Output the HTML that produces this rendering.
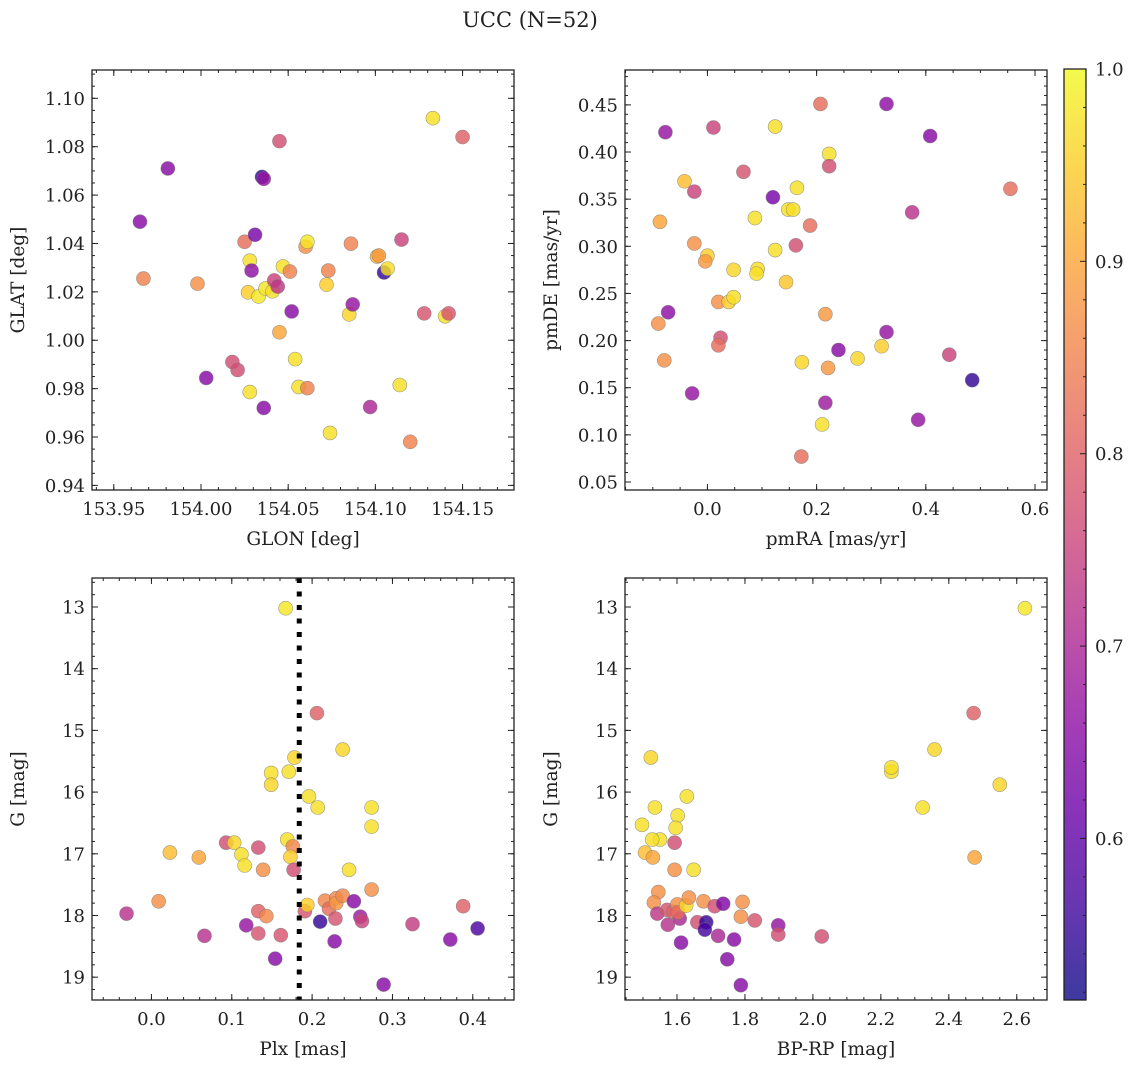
<!DOCTYPE html>
<html><head><meta charset="utf-8">
<style>
html,body{margin:0;padding:0;background:#fff;}
svg text{font-family:"DejaVu Serif","Liberation Serif",serif;fill:#222;}
</style></head>
<body>
<svg id="fig" width="1136" height="1068" viewBox="0 0 1136 1068" xmlns="http://www.w3.org/2000/svg">
<text x="530" y="27" text-anchor="middle" font-size="21">UCC (N=52)</text>
</svg>
<script>
// ---------- data ----------
const glonVals=[153.965,153.981,153.967,153.998,154.003,154.018,154.021,154.025,154.028,154.027,154.028,154.029,154.031,154.033,154.035,154.036,154.036,154.037,154.041,154.042,154.044,154.045,154.045,154.047,154.051,154.052,154.054,154.056,154.060,154.061,154.061,154.072,154.073,154.074,154.085,154.086,154.087,154.097,154.101,154.102,154.105,154.107,154.114,154.115,154.120,154.128,154.133,154.140,154.142,154.150];
const glatVals=[1.049,1.071,1.0255,1.0234,0.9844,0.991,0.9877,1.0407,1.0329,1.0198,0.9786,1.0288,1.0436,1.0181,1.0675,1.0667,0.972,1.0214,1.0202,1.0247,1.0222,1.0823,1.0033,1.0305,1.0284,1.0119,0.9922,0.9807,1.0387,0.9802,1.0407,1.023,1.0288,0.9617,1.0107,1.0399,1.0148,0.9724,1.0346,1.035,1.028,1.0296,0.9815,1.0416,0.958,1.0111,1.0918,1.0099,1.0111,1.084];
const glatProb=[0.65,0.65,0.85,0.87,0.65,0.77,0.77,0.82,0.97,0.95,0.97,0.66,0.63,0.98,0.55,0.67,0.65,0.98,0.97,0.75,0.73,0.77,0.9,0.97,0.85,0.65,0.97,0.97,0.87,0.85,0.98,0.95,0.85,0.97,0.96,0.85,0.67,0.7,0.93,0.88,0.55,0.97,0.97,0.75,0.85,0.78,0.97,0.97,0.78,0.8];

const pmraVals=[-0.077,0.011,0.207,0.328,0.124,0.408,-0.042,-0.024,0.066,0.223,0.223,-0.087,0.120,0.164,0.087,0.148,0.157,0.188,0.375,0.555,-0.024,0.124,0.162,0.0,-0.004,0.048,0.092,0.090,0.144,0.020,0.039,0.048,-0.072,0.216,-0.090,0.024,0.020,0.328,0.319,0.240,0.443,-0.079,0.173,0.275,0.221,0.485,-0.028,0.216,0.386,0.210,0.172];
const pmdeVals=[0.421,0.426,0.451,0.451,0.427,0.417,0.369,0.358,0.379,0.398,0.385,0.326,0.352,0.362,0.330,0.339,0.339,0.322,0.336,0.361,0.303,0.296,0.301,0.290,0.284,0.275,0.276,0.271,0.262,0.241,0.241,0.246,0.230,0.228,0.218,0.203,0.195,0.209,0.194,0.190,0.185,0.179,0.177,0.181,0.171,0.158,0.144,0.134,0.116,0.111,0.077];
const pmProb=[0.67,0.75,0.82,0.66,0.97,0.65,0.93,0.75,0.78,0.97,0.77,0.9,0.63,0.97,0.97,0.97,0.97,0.82,0.72,0.82,0.87,0.97,0.77,0.95,0.88,0.96,0.97,0.97,0.94,0.87,0.95,0.97,0.66,0.88,0.87,0.77,0.82,0.67,0.95,0.65,0.75,0.87,0.96,0.96,0.88,0.55,0.67,0.68,0.67,0.97,0.82];

const plxVals=[-0.031,0.009,0.066,0.118,0.133,0.143,0.133,0.161,0.154,0.191,0.194,0.210,0.216,0.221,0.229,0.228,0.230,0.230,0.238,0.252,0.260,0.262,0.274,0.289,0.325,0.372,0.388,0.406,0.167,0.206,0.178,0.238,0.149,0.149,0.171,0.196,0.207,0.274,0.274,0.093,0.103,0.112,0.116,0.133,0.169,0.176,0.173,0.023,0.059,0.139,0.177,0.246];
const gPlxVals=[17.97,17.77,18.33,18.16,17.93,18.01,18.29,18.32,18.70,17.93,17.83,18.10,17.76,17.89,18.05,18.42,17.72,17.80,17.68,17.77,18.02,18.09,17.58,19.12,18.14,18.39,17.85,18.21,13.02,14.72,15.44,15.31,15.69,15.88,15.67,16.07,16.25,16.25,16.56,16.82,16.82,17.01,17.19,16.90,16.77,16.88,17.05,16.98,17.06,17.26,17.26,17.26];
const plxProb=[0.72,0.87,0.72,0.67,0.8,0.86,0.78,0.78,0.65,0.78,0.95,0.55,0.86,0.82,0.78,0.65,0.86,0.88,0.86,0.65,0.68,0.75,0.87,0.65,0.74,0.65,0.8,0.58,0.98,0.8,0.96,0.96,0.97,0.96,0.97,0.97,0.97,0.97,0.97,0.77,0.96,0.97,0.97,0.77,0.97,0.86,0.95,0.93,0.9,0.87,0.77,0.97];
const plxMedian=[0.184];

const bprpVals=[1.545,1.532,1.542,1.571,1.573,1.588,1.601,1.608,1.603,1.627,1.635,1.612,1.660,1.678,1.686,1.682,1.711,1.721,1.736,1.768,1.748,1.788,1.793,1.788,1.829,1.898,1.898,2.026,2.624,2.473,2.358,2.231,2.231,2.550,2.323,2.476,1.523,1.535,1.629,1.602,1.596,1.593,1.497,1.506,1.529,1.550,1.527,1.593,1.649];
const gCmdVals=[17.62,17.79,17.97,17.91,18.15,17.94,17.82,18.05,17.95,17.84,17.71,18.44,18.11,17.77,18.11,18.23,17.85,18.33,17.81,18.39,18.71,19.13,17.78,18.02,18.08,18.16,18.31,18.34,13.02,14.72,15.31,15.67,15.60,15.88,16.25,17.06,15.44,16.25,16.07,16.38,16.58,16.82,16.53,16.98,17.06,16.77,16.77,17.26,17.26];
const cmdProb=[0.87,0.87,0.73,0.78,0.72,0.8,0.87,0.7,0.82,0.96,0.87,0.65,0.77,0.87,0.55,0.57,0.77,0.7,0.64,0.65,0.65,0.65,0.87,0.87,0.78,0.67,0.77,0.77,0.98,0.8,0.96,0.97,0.97,0.96,0.97,0.9,0.96,0.97,0.97,0.97,0.97,0.77,0.97,0.93,0.9,0.97,0.97,0.87,0.97];

const cbTicks=[0.6,0.7,0.8,0.9,1.0];
const cbRange=[0.516,1.0];

// ---------- helpers ----------
const NS="http://www.w3.org/2000/svg";
const svg=document.getElementById('fig');
const TICKFS=18, LABELFS=18.5;
function mk(tag,attrs,parent){const e=document.createElementNS(NS,tag);for(const k in attrs)e.setAttribute(k,attrs[k]);(parent||svg).appendChild(e);return e;}
const stops=[[0.0,[13,8,135]],[0.1,[65,4,157]],[0.2,[106,0,168]],[0.3,[143,13,164]],[0.4,[177,42,144]],[0.5,[204,71,120]],[0.6,[225,100,98]],[0.7,[242,132,75]],[0.8,[252,166,54]],[0.9,[252,206,37]],[1.0,[240,249,33]]];
function plasma(t){t=Math.max(0,Math.min(1,t));for(let i=1;i<stops.length;i++){if(t<=stops[i][0]){const a=stops[i-1],b=stops[i];const f=(t-a[0])/(b[0]-a[0]);const c=a[1].map((v,j)=>Math.round(v+(b[1][j]-v)*f));return `rgb(${c[0]},${c[1]},${c[2]})`;}}return 'rgb(240,249,33)';}
function pcol(p){return plasma((p-cbRange[0])/(cbRange[1]-cbRange[0]));}
function fmt(v,d){return v.toFixed(d);}

function panel(o){
  const g=mk('g',{});
  
  
  const L=o.box[0],T=o.box[1],R=o.box[2],B=o.box[3];
  const sx=v=>L+(v-o.xr[0])/(o.xr[1]-o.xr[0])*(R-L);
  const sy=v=>o.yinv? T+(v-o.yr[0])/(o.yr[1]-o.yr[0])*(B-T) : B-(v-o.yr[0])/(o.yr[1]-o.yr[0])*(B-T);
  for(let i=0;i<o.xs.length;i++){
    const c=mk('circle',{cx:sx(o.xs[i]),cy:sy(o.ys[i]),r:7,fill:pcol(o.ps[i]),'fill-opacity':0.82,stroke:'#777','stroke-opacity':0.7,'stroke-width':0.6},g);
    
    
  }
  if(o.vline){const x=sx(o.vline[0]);const ln=mk('line',{x1:x,x2:x,y1:T,y2:B,stroke:'#000','stroke-width':5,'stroke-dasharray':'5,8.5'},g);}
  const fr=mk('rect',{x:L,y:T,width:R-L,height:B-T,fill:'none',stroke:'#222','stroke-width':1.3},g);
  
  function ticksX(step,len,labels){
    const start=Math.ceil(o.xr[0]/step-1e-6);
    for(let k=start;k*step<=o.xr[1]+1e-9;k++){const v=k*step;const x=sx(v);
      mk('line',{x1:x,x2:x,y1:B,y2:B-len,stroke:'#222','stroke-width':1},g);
      mk('line',{x1:x,x2:x,y1:T,y2:T+len,stroke:'#222','stroke-width':1},g);
      if(labels){const t=mk('text',{x:x,y:B+25,'text-anchor':'middle','font-size':TICKFS},g);t.textContent=fmt(v,o.xd);}
    }}
  function ticksY(step,len,labels){
    const start=Math.ceil(o.yr[0]/step-1e-6);
    for(let k=start;k*step<=o.yr[1]+1e-9;k++){const v=k*step;const y=sy(v);
      mk('line',{x1:L,x2:L+len,y1:y,y2:y,stroke:'#222','stroke-width':1},g);
      mk('line',{x1:R,x2:R-len,y1:y,y2:y,stroke:'#222','stroke-width':1},g);
      if(labels){const t=mk('text',{x:L-7,y:y+6.5,'text-anchor':'end','font-size':TICKFS},g);t.textContent=fmt(v,o.yd);}
    }}
  ticksX(o.xmaj,6,true);ticksX(o.xmin,3,false);
  ticksY(o.ymaj,6,true);ticksY(o.ymin,3,false);
  const xl=mk('text',{x:(L+R)/2,y:B+55,'text-anchor':'middle','font-size':LABELFS},g);xl.textContent=o.xlabel;
  
  const yx=L-68,yy=(T+B)/2;
  const yl=mk('text',{x:yx,y:yy,'text-anchor':'middle','font-size':LABELFS,transform:`rotate(-90 ${yx} ${yy})`},g);yl.textContent=o.ylabel;
  
}

panel({name:'glon-glat-panel',pointName:'star-point',box:[92,70,514,490],xr:[153.9375,154.1795],yr:[0.9381,1.1117],xs:glonVals,ys:glatVals,ps:glatProb,xmaj:0.05,xmin:0.01,ymaj:0.02,ymin:0.005,xd:2,yd:2,xlabel:'GLON [deg]',ylabel:'GLAT [deg]'});
panel({name:'proper-motion-panel',pointName:'star-point',box:[625,70,1047,490],xr:[-0.151,0.622],yr:[0.0415,0.487],xs:pmraVals,ys:pmdeVals,ps:pmProb,xmaj:0.2,xmin:0.05,ymaj:0.05,ymin:0.01,xd:1,yd:2,xlabel:'pmRA [mas/yr]',ylabel:'pmDE [mas/yr]'});
panel({name:'plx-g-panel',pointName:'star-point',box:[92,578,514,1000],xr:[-0.074,0.4513],yr:[12.53,19.37],yinv:true,xs:plxVals,ys:gPlxVals,ps:plxProb,xmaj:0.1,xmin:0.02,ymaj:1,ymin:0.2,xd:1,yd:0,xlabel:'Plx [mas]',ylabel:'G [mag]',vline:plxMedian});
panel({name:'cmd-panel',pointName:'star-point',box:[625,578,1047,1000],xr:[1.447,2.689],yr:[12.53,19.37],yinv:true,xs:bprpVals,ys:gCmdVals,ps:cmdProb,xmaj:0.2,xmin:0.05,ymaj:1,ymin:0.2,xd:1,yd:0,xlabel:'BP-RP [mag]',ylabel:'G [mag]'});

// ---------- colorbar ----------
(function(){
  const L=1064,R=1086,T=69,B=1000;
  const cg=mk('g',{});
  const defs=mk('defs',{},cg);
  const lg=mk('linearGradient',{id:'cbg',x1:0,y1:1,x2:0,y2:0},defs);
  stops.forEach(s=>mk('stop',{offset:s[0],'stop-color':`rgb(${s[1].join(',')})`,'stop-opacity':0.8},lg));
  mk('rect',{x:L,y:T,width:R-L,height:B-T,fill:'url(#cbg)'},cg);
  mk('rect',{x:L,y:T,width:R-L,height:B-T,fill:'none',stroke:'#222','stroke-width':1.3},cg);
  const sy=v=>B-(v-cbRange[0])/(cbRange[1]-cbRange[0])*(B-T);
  cbTicks.forEach(v=>{const y=sy(v);mk('line',{x1:R,x2:R-6,y1:y,y2:y,stroke:'#222'},cg);
    const t=mk('text',{x:R+9,y:y+6.5,'font-size':TICKFS},cg);t.textContent=v.toFixed(1);
    });
  for(let v=0.52;v<=1.0001;v+=0.02){if(Math.abs(v*10-Math.round(v*10))<1e-6)continue;const y=sy(v);mk('line',{x1:R,x2:R-3,y1:y,y2:y,stroke:'#222'},cg);}
})();
</script>
</body></html>
